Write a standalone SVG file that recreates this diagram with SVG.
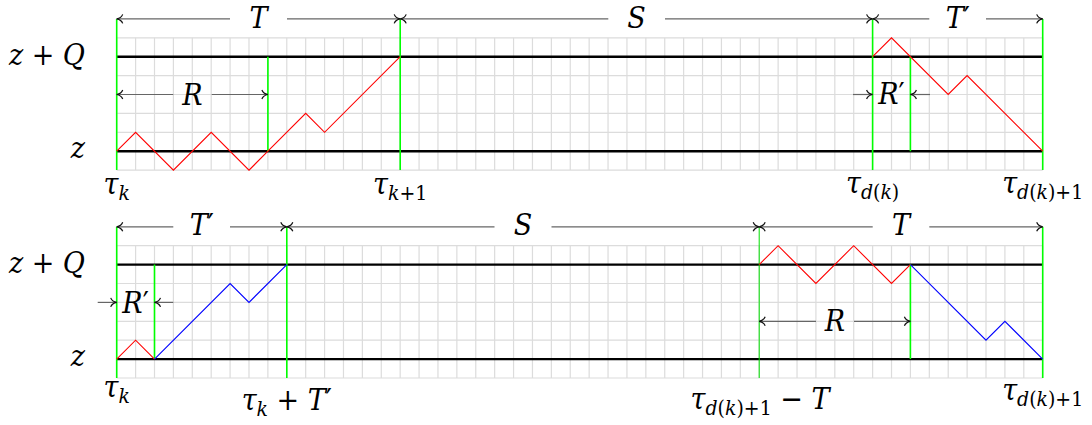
<svg xmlns="http://www.w3.org/2000/svg" width="1092" height="425" viewBox="0 0 1092 425">
<style>
.grid{stroke:#dcdcdc;stroke-width:1.2;fill:none}
.axis{stroke:#000;stroke-width:2.4;fill:none}
.gr{stroke:#00ff00;stroke-width:1.6;fill:none}
.gr-thin{stroke:#00e000;stroke-width:1;fill:none}
.red{stroke:#ff0000;stroke-width:1.1;fill:none;stroke-linejoin:miter}
.blue{stroke:#0000ff;stroke-width:1.1;fill:none}
.dimA{stroke:#666;stroke-width:1.2;fill:none;marker-end:url(#ah)}
.dimS{stroke:#666;stroke-width:1.2;fill:none;marker-start:url(#ah)}
.lbl{font-family:'DejaVu Serif Condensed', 'DejaVu Serif', serif;font-stretch:condensed;font-size:30px;fill:#000;font-style:italic}
.up{font-style:normal}
.s{font-size:21px}
</style>
<defs>
<marker id="ah" viewBox="-8 -6 10 12" refX="0" refY="0" markerWidth="10" markerHeight="12" markerUnits="userSpaceOnUse" orient="auto-start-reverse">
<path d="M-6,-4.5 C-5,-1.8 -2,-0.4 0,0 C-2,0.4 -5,1.8 -6,4.5" fill="none" stroke="#111" stroke-width="1.2"/>
</marker>
</defs>

<g id="top-panel">
  <g id="top-grid">
    <line x1="116.1" y1="103.95" x2="1043.3" y2="103.95" stroke="#dcdcdc" stroke-width="132.3" stroke-dasharray="1.2 17.698"/>
    <path class="grid" d="M116.7 37.8H1042.7M116.7 75.6H1042.7M116.7 94.5H1042.7M116.7 113.4H1042.7M116.7 132.3H1042.7M116.7 170.1H1042.7"/>
  </g>
  <path id="top-levels" class="axis" d="M116.7 56.7H1042.7M116.7 151.2H1042.7"/>
  <g id="top-markers">
    <path class="gr" d="M116.7 18.9V170.1M400.2 18.9V170.1M872.6 18.9V170.1M1042.7 18.9V170.1"/>
    <path class="gr" d="M267.9 56.7V151.2M910.4 56.7V151.2"/>
  </g>
  <polyline id="top-path-left" class="red" points="116.7,151.2 135.6,132.3 173.4,170.1 211.2,132.3 249,170.1 267.9,151.2 305.7,113.4 324.6,132.3 400.2,56.7"/>
  <polyline id="top-path-right" class="red" points="872.6,56.7 891.5,37.8 948.2,94.5 967.1,75.6 1042.7,151.2"/>
</g>

<g id="bottom-panel">
  <g id="bottom-grid">
    <line x1="116.1" y1="311.85" x2="1043.3" y2="311.85" stroke="#dcdcdc" stroke-width="132.3" stroke-dasharray="1.2 17.698"/>
    <path class="grid" d="M116.7 245.7H1042.7M116.7 283.5H1042.7M116.7 302.4H1042.7M116.7 321.3H1042.7M116.7 340.2H1042.7M116.7 378H1042.7"/>
  </g>
  <path id="bottom-levels" class="axis" d="M116.7 264.6H1042.7M116.7 359.1H1042.7"/>
  <g id="bottom-markers">
    <path class="gr" d="M116.7 226.8V378M286.8 226.8V378M1042.7 226.8V378"/>
    <path class="gr-thin" d="M759.2 226.8V378"/>
    <path class="gr" d="M154.5 264.6V359.1M910.4 264.6V359.1"/>
  </g>
  <polyline id="bottom-red-left" class="red" points="116.7,359.1 135.6,340.2 154.5,359.1"/>
  <polyline id="bottom-blue-left" class="blue" points="154.5,359.1 230.1,283.5 249,302.4 286.8,264.6"/>
  <polyline id="bottom-red-right" class="red" points="759.2,264.6 778.1,245.7 815.9,283.5 853.7,245.7 891.5,283.5 910.4,264.6"/>
  <polyline id="bottom-blue-right" class="blue" points="910.4,264.6 986,340.2 1004.9,321.3 1042.7,359.1"/>
</g>

<g id="connectors">
  <path class="dimS" d="M116.7 18.9H230"/><path class="dimA" d="M287 18.9H400.2"/>
  <path class="dimS" d="M400.2 18.9H608.3"/><path class="dimA" d="M665 18.9H872.6"/>
  <path class="dimS" d="M872.6 18.9H929.3"/><path class="dimA" d="M986 18.9H1042.7"/>
  <path class="dimS" d="M116.7 94.5H173.3"/><path class="dimA" d="M211.7 94.5H267.9"/>
  <path class="dimA" d="M853 94.5H872.6"/><path class="dimA" d="M930 94.5H910.4"/>
  <path class="dimS" d="M116.7 226.8H173.3"/><path class="dimA" d="M230 226.8H286.8"/>
  <path class="dimS" d="M286.8 226.8H494.5"/><path class="dimA" d="M551.5 226.8H759.2"/>
  <path class="dimS" d="M759.2 226.8H872.7"/><path class="dimA" d="M929.3 226.8H1042.7"/>
  <path class="dimS" d="M759.2 321.3H816"/><path class="dimA" d="M854 321.3H910.4"/>
  <path class="dimA" d="M97.7 302.4H116.7"/><path class="dimA" d="M173.3 302.4H154.5"/>
</g>

<g id="labels-top" class="lbl">
  <text x="258.5" y="28" text-anchor="middle">T</text>
  <text x="636.4" y="28" text-anchor="middle">S</text>
  <text x="957.7" y="28" text-anchor="middle">T<tspan class="up">′</tspan></text>
  <text x="192.3" y="105" text-anchor="middle">R</text>
  <text x="891.5" y="104" text-anchor="middle">R<tspan class="up">′</tspan></text>
  <text x="85" y="65" text-anchor="end">z <tspan class="up">+</tspan> Q</text>
  <text x="85" y="158" text-anchor="end">z</text>
  <text x="116.7" y="194" text-anchor="middle">τ<tspan class="s" dy="6">k</tspan></text>
  <text x="400.2" y="194" text-anchor="middle">τ<tspan class="s" dy="6">k<tspan class="up">+1</tspan></tspan></text>
  <text x="872.6" y="193" text-anchor="middle">τ<tspan class="s" dy="6">d<tspan class="up">(</tspan>k<tspan class="up">)</tspan></tspan></text>
  <text x="1042.7" y="193" text-anchor="middle">τ<tspan class="s" dy="6">d<tspan class="up">(</tspan>k<tspan class="up">)+1</tspan></tspan></text>
</g>

<g id="labels-bottom" class="lbl">
  <text x="201.7" y="235" text-anchor="middle">T<tspan class="up">′</tspan></text>
  <text x="523" y="235" text-anchor="middle">S</text>
  <text x="901" y="235" text-anchor="middle">T</text>
  <text x="835" y="331" text-anchor="middle">R</text>
  <text x="135.6" y="313" text-anchor="middle">R<tspan class="up">′</tspan></text>
  <text x="85" y="273" text-anchor="end">z <tspan class="up">+</tspan> Q</text>
  <text x="85" y="366" text-anchor="end">z</text>
  <text x="116.7" y="397" text-anchor="middle">τ<tspan class="s" dy="6">k</tspan></text>
  <text x="286.8" y="410" text-anchor="middle">τ<tspan class="s" dy="6">k</tspan><tspan class="up" dy="-6"> + </tspan>T<tspan class="up">′</tspan></text>
  <text x="760" y="409" text-anchor="middle">τ<tspan class="s" dy="6">d<tspan class="up">(</tspan>k<tspan class="up">)+1</tspan></tspan><tspan class="up" dy="-6"> − </tspan>T</text>
  <text x="1042.7" y="400" text-anchor="middle">τ<tspan class="s" dy="6">d<tspan class="up">(</tspan>k<tspan class="up">)+1</tspan></tspan></text>
</g>
</svg>
